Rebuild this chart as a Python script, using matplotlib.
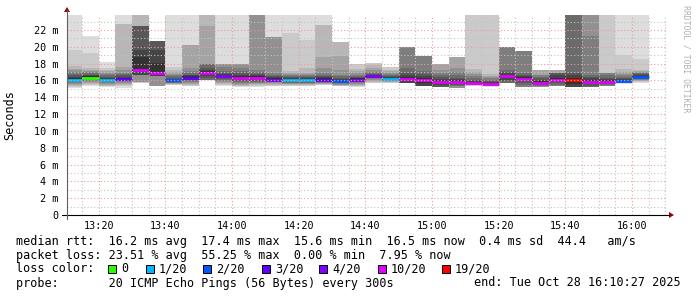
import numpy as np
import matplotlib
matplotlib.use("Agg")
import matplotlib.pyplot as plt
from matplotlib.patches import Rectangle, Polygon
from matplotlib.lines import Line2D

W, H = 697, 297
MONO = "DejaVu Sans Mono"

# one column every 5 minutes, first one starts 13:10
t0 = 13 * 60 + 10
step = 5

# median rtt per column (ms)
medians = [16.05, 16.3, 16.05, 16.2, 17.3, 16.9, 16.0, 16.35, 16.85, 16.5,
           16.25, 16.3, 16.1, 16.0, 16.05, 16.1, 15.9, 16.1, 16.5, 16.2,
           16.2, 16.05, 15.85, 15.8, 15.65, 15.55, 16.5, 16.2, 15.75, 16.0,
           16.0, 15.85, 15.8, 15.9, 16.4]

# lost pings (out of 20) per column
loss = [1, 0, 1, 3, 10, 10, 2, 3, 10, 4,
        10, 10, 4, 1, 1, 3, 2, 4, 4, 1,
        10, 10, 10, 10, 10, 10, 10, 10, 10, 10,
        19, 10, 10, 2, 2]

# lower half of the sorted pings (outermost first), ms
ping_lo = [
    [15.1, 15.25, 15.4, 15.5, 15.6, 15.7, 15.8, 15.85, 15.9, 16.0],
    [15.4, 15.5, 15.6, 15.7, 15.8, 15.9, 16.0, 16.1, 16.15, 16.2],
    [15.2, 15.3, 15.4, 15.5, 15.6, 15.7, 15.8, 15.85, 15.9, 16.0],
    [15.15, 15.3, 15.45, 15.6, 15.7, 15.8, 15.9, 16.0, 16.05, 16.1],
    [15.7, 15.75, 15.8, 15.85, 15.85, 16.65, 16.65, 16.65, 16.65, 17.0],
    [15.4, 15.4, 15.4, 15.4, 15.4, 16.5, 16.5, 16.5, 16.5, 16.7],
    [15.45, 15.5, 15.55, 15.6, 15.65, 15.7, 15.75, 15.8, 15.85, 15.9],
    [15.3, 15.4, 15.5, 15.6, 15.7, 15.8, 15.9, 16.0, 16.1, 16.2],
    [16.05, 16.05, 16.05, 16.05, 16.05, 16.05, 16.05, 16.3, 16.5, 16.65],
    [15.35, 15.45, 15.55, 15.65, 15.8, 15.95, 16.1, 16.2, 16.3, 16.4],
    [15.2, 15.3, 15.4, 15.5, 15.6, 15.7, 15.8, 15.9, 16.0, 16.1],
    [15.25, 15.35, 15.45, 15.55, 15.65, 15.75, 15.85, 15.95, 16.05, 16.15],
    [15.3, 15.4, 15.5, 15.6, 15.7, 15.8, 15.85, 15.9, 15.95, 16.0],
    [15.3, 15.4, 15.5, 15.55, 15.6, 15.7, 15.75, 15.8, 15.85, 15.9],
    [15.3, 15.4, 15.5, 15.55, 15.6, 15.7, 15.75, 15.8, 15.85, 15.95],
    [15.45, 15.5, 15.55, 15.6, 15.7, 15.75, 15.8, 15.85, 15.9, 16.0],
    [15.3, 15.35, 15.4, 15.45, 15.5, 15.6, 15.7, 15.75, 15.8, 15.85],
    [15.2, 15.3, 15.4, 15.5, 15.6, 15.7, 15.8, 15.85, 15.9, 16.0],
    [15.65, 15.75, 15.85, 15.95, 16.05, 16.15, 16.25, 16.3, 16.35, 16.4],
    [15.7, 15.75, 15.8, 15.85, 15.9, 15.95, 16.0, 16.05, 16.1, 16.15],
    [15.65, 15.65, 15.65, 15.65, 15.65, 15.65, 15.65, 15.65, 15.65, 15.9],
    [15.35, 15.35, 15.35, 15.35, 15.35, 15.35, 15.35, 15.35, 15.35, 15.7],
    [15.25, 15.25, 15.25, 15.25, 15.25, 15.25, 15.25, 15.25, 15.5, 15.7],
    [15.15, 15.15, 15.15, 15.15, 15.15, 15.3, 15.4, 15.5, 15.6, 15.7],
    [15.35, 15.4, 15.45, 15.48, 15.5, 15.52, 15.55, 15.58, 15.6, 15.62],
    [15.25, 15.3, 15.33, 15.36, 15.4, 15.42, 15.45, 15.48, 15.5, 15.52],
    [15.7, 15.7, 15.7, 15.7, 15.7, 15.7, 15.7, 15.9, 16.1, 16.3],
    [15.25, 15.25, 15.25, 15.25, 15.25, 15.25, 15.5, 15.7, 15.9, 16.05],
    [15.2, 15.2, 15.2, 15.2, 15.2, 15.3, 15.4, 15.5, 15.55, 15.6],
    [15.35, 15.35, 15.35, 15.35, 15.35, 15.35, 15.5, 15.65, 15.8, 15.9],
    [15.25, 15.25, 15.25, 15.25, 15.25, 15.25, 15.25, 15.25, 15.25, 15.6],
    [15.25, 15.25, 15.25, 15.25, 15.25, 15.25, 15.25, 15.4, 15.55, 15.7],
    [15.4, 15.4, 15.4, 15.4, 15.4, 15.4, 15.5, 15.55, 15.6, 15.7],
    [15.6, 15.65, 15.7, 15.72, 15.75, 15.78, 15.8, 15.85, 15.88, 15.9],
    [15.7, 15.8, 15.9, 15.95, 16.0, 16.1, 16.15, 16.2, 16.25, 16.3],
]

# upper half of the sorted pings (innermost first), ms; 25 = off the chart
ping_hi = [
    [16.3, 16.45, 16.6, 16.8, 17.0, 17.2, 17.4, 17.7, 19.6, 25],
    [16.5, 16.6, 16.7, 16.85, 17.0, 17.15, 17.3, 17.5, 19.3, 21.3],
    [16.2, 16.3, 16.45, 16.6, 16.75, 16.9, 17.1, 17.3, 17.5, 18.2],
    [16.35, 16.45, 16.6, 16.75, 16.9, 17.2, 17.6, 22.7, 22.7, 25],
    [18.8, 19.6, 22.5, 22.5, 22.5, 22.5, 22.5, 25, 25, 25],
    [18.1, 19.65, 20.7, 20.7, 20.7, 20.7, 20.7, 20.7, 20.7, 20.7],
    [16.1, 16.2, 16.35, 16.5, 16.65, 16.8, 17.0, 17.3, 17.65, 25],
    [16.5, 16.6, 16.7, 16.85, 17.1, 17.5, 20.2, 20.2, 20.2, 25],
    [17.1, 17.3, 17.5, 18.0, 18.0, 18.0, 22.5, 25, 25, 25],
    [16.65, 16.75, 16.9, 17.1, 17.6, 18.0, 18.0, 18.0, 18.0, 25],
    [16.5, 16.7, 16.9, 17.1, 17.5, 18.0, 18.0, 18.0, 18.0, 25],
    [16.5, 16.65, 16.8, 17.0, 17.25, 25, 25, 25, 25, 25],
    [16.3, 16.4, 16.55, 16.7, 16.9, 21.2, 21.2, 21.2, 21.2, 25],
    [16.2, 16.3, 16.4, 16.5, 16.6, 16.75, 16.9, 17.1, 21.6, 25],
    [16.2, 16.3, 16.4, 16.5, 16.6, 16.75, 16.95, 17.45, 20.85, 25],
    [16.3, 16.4, 16.55, 16.7, 16.9, 17.45, 18.8, 22.6, 22.6, 25],
    [16.1, 16.2, 16.35, 16.5, 16.7, 17.25, 18.9, 20.6, 20.6, 20.6],
    [16.25, 16.35, 16.45, 16.55, 16.7, 16.9, 17.1, 17.4, 18.0, 18.0],
    [16.6, 16.7, 16.8, 16.9, 17.0, 17.2, 17.5, 17.9, 18.05, 18.05],
    [16.35, 16.45, 16.55, 16.65, 16.75, 16.9, 17.1, 17.3, 17.65, 17.65],
    [16.45, 16.6, 16.9, 17.45, 20.0, 20.0, 20.0, 20.0, 20.0, 20.0],
    [16.3, 16.5, 16.75, 17.1, 18.9, 18.9, 18.9, 18.9, 18.9, 18.9],
    [16.05, 16.2, 16.4, 16.6, 16.9, 17.3, 17.95, 17.95, 17.95, 17.95],
    [16.0, 16.15, 16.35, 16.6, 17.0, 17.5, 18.75, 18.75, 18.75, 18.75],
    [15.85, 15.95, 16.1, 16.3, 16.55, 16.8, 17.05, 17.35, 25, 25],
    [15.75, 15.85, 15.95, 16.1, 16.25, 16.4, 16.55, 16.8, 25, 25],
    [16.7, 16.85, 17.0, 17.2, 20.0, 20.0, 20.0, 20.0, 20.0, 20.0],
    [16.4, 16.55, 16.7, 16.95, 19.55, 19.55, 19.55, 19.55, 19.55, 19.55],
    [15.95, 16.1, 16.3, 16.45, 16.65, 16.65, 17.25, 17.25, 17.25, 17.25],
    [16.3, 16.6, 16.9, 16.9, 16.9, 16.9, 17.25, 17.25, 17.25, 17.25],
    [16.3, 16.6, 16.9, 25, 25, 25, 25, 25, 25, 25],
    [16.05, 16.25, 16.45, 16.65, 21.3, 25, 25, 25, 25, 25],
    [16.0, 16.15, 16.35, 16.6, 16.9, 16.9, 16.9, 16.9, 25, 25],
    [16.1, 16.2, 16.3, 16.45, 16.6, 16.8, 17.05, 17.4, 19.05, 25],
    [16.55, 16.65, 16.75, 16.85, 16.95, 17.05, 17.15, 17.3, 18.6, 25],
]

loss_levels = [0, 1, 2, 3, 4, 10, 19]
loss_labels = ["0", "1/20", "2/20", "3/20", "4/20", "10/20", "19/20"]
loss_colors = ["#26ff00", "#00b8ff", "#0059ff", "#5e00ff", "#7e00ff", "#dd00ff", "#ff0000"]

stats_rtt = "median rtt:  16.2 ms avg  17.4 ms max  15.6 ms min  16.5 ms now  0.4 ms sd  44.4   am/s"
stats_loss = "packet loss: 23.51 % avg  55.25 % max  0.00 % min  7.95 % now"
probe_txt = "probe:       20 ICMP Echo Pings (56 Bytes) every 300s"
end_txt = "end: Tue Oct 28 16:10:27 2025"


def fx(x):
    return x / W


def fy(y):
    return 1 - y / H


def loss_color(n):
    c = loss_colors[0]
    for lv, col in zip(loss_levels, loss_colors):
        if n >= lv:
            c = col
    return c


fig = plt.figure(figsize=(W / 100, H / 100), dpi=100)
fig.patch.set_facecolor("white")
ax = fig.add_axes([fx(67), fy(215), 600 / W, (215 - 14.5) / H])

left = t0 + 27 / 60
ax.set_xlim(left, left + 180)
ax.set_ylim(0, 23.85)

xs = [t0 + step * k for k in range(len(medians))]

# smoke: pairs of pings, outer pairs light, inner pairs dark
for i in range(10):
    bot = np.array([lo[i] for lo in ping_lo])
    top = np.array([hi[9 - i] for hi in ping_hi])
    g = 19 * (9 - i) + 50
    ax.bar(xs, top - bot, bottom=bot, width=step, align="edge",
           color="#%02x%02x%02x" % (g, g, g), linewidth=0, zorder=1)

for x, m, n in zip(xs, medians, loss):
    ax.hlines(m, x, x + step, colors=loss_color(n), lw=2.0, zorder=2)

# grid
ax.set_xticks(range(800, 961, 20))
ax.set_xticks(range(795, 971, 5), minor=True)
ax.set_yticks(range(0, 23, 2))
ax.set_yticks(range(1, 24), minor=True)
ax.grid(which="major", color="#e8a0a0", ls=(0, (1, 2)), lw=0.8)
ax.grid(which="minor", color="#c4c4c4", ls=(0, (1, 2)), lw=0.8)
ax.set_axisbelow(False)

ax.set_xticklabels(["%d:%02d" % (v // 60, v % 60) for v in range(800, 961, 20)],
                   family=MONO, fontsize=7.3)
ax.set_yticklabels(["0" if v == 0 else "%d m" % v for v in range(0, 23, 2)],
                   family=MONO, fontsize=7.3)
ax.tick_params(which="both", length=0)
ax.tick_params(axis="x", pad=4)
ax.tick_params(axis="y", pad=6)
for s in ax.spines.values():
    s.set_visible(False)

# axis lines and arrows
fig.add_artist(Line2D([fx(62), fx(669)], [fy(215), fy(215)], color="black", lw=0.8))
fig.add_artist(Line2D([fx(67), fx(67)], [fy(219), fy(10)], color="#606060", lw=0.8))
fig.add_artist(Polygon([[fx(64), fy(12)], [fx(70), fy(12)], [fx(67), fy(7)]],
                       closed=True, color="#990000", lw=0))
fig.add_artist(Polygon([[fx(669), fy(212)], [fx(669), fy(218)], [fx(674), fy(215)]],
                       closed=True, color="#990000", lw=0))

fig.text(fx(10), fy(115), "Seconds", rotation=90, family=MONO, fontsize=8.5,
         ha="center", va="center")
fig.text(fx(686), fy(59), "RRDTOOL / TOBI OETIKER", rotation=270, family=MONO,
         fontsize=5.9, color="#b0b0b0", ha="center", va="center")

# legend
fig.text(fx(16), fy(241), stats_rtt, family=MONO, fontsize=8.5, va="center")
fig.text(fx(16), fy(255), stats_loss, family=MONO, fontsize=8.5, va="center")
fig.text(fx(16), fy(269), "loss color:", family=MONO, fontsize=8.5, va="center")
sw_x = [108, 146, 203, 262, 319, 378, 442]
for x, lab, col in zip(sw_x, loss_labels, loss_colors):
    fig.add_artist(Rectangle((fx(x), fy(273)), 8 / W, 8 / H, facecolor=col,
                             edgecolor="black", lw=0.7))
    fig.text(fx(x + 13), fy(269), lab, family=MONO, fontsize=8.5, va="center")
fig.text(fx(16), fy(283), probe_txt, family=MONO, fontsize=8.5, va="center")
fig.text(fx(681), fy(283), end_txt, family=MONO, fontsize=8.5, va="center", ha="right")

fig.savefig("out.png", dpi=100)
